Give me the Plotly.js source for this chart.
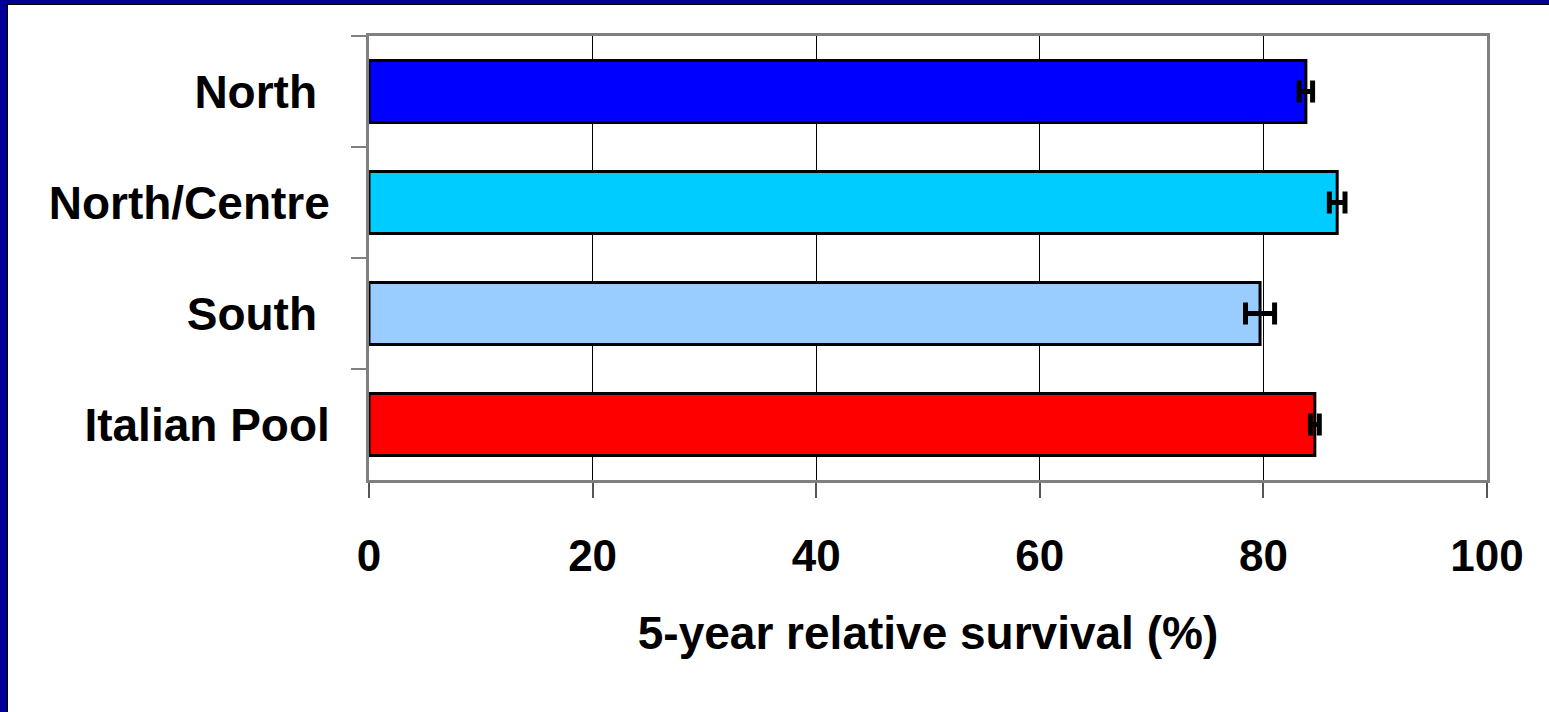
<!DOCTYPE html>
<html>
<head>
<meta charset="utf-8">
<script src="https://cdn.plot.ly/plotly-3.0.1.min.js"></script>
<style>
html,body{margin:0;padding:0;width:1549px;height:712px;overflow:hidden;background:#000099;}
#frame{position:absolute;left:7px;top:4px;width:1542px;height:708px;border-left:1px solid #000;border-top:1px solid #000;background:#fff;}
#chart{position:absolute;left:0;top:0;width:1541px;height:707px;}
</style>
</head>
<body>
<div id="frame"><div id="chart"></div></div>
<script>
const categories = ["North\u00a0", "North/Centre", "South\u00a0", "Italian Pool"];
const survival = [83.8, 86.6, 79.7, 84.6];
const errorHalf = [0.6, 0.7, 1.3, 0.4];
const barColors = ["#0000FF", "#00CCFF", "#99CCFF", "#FF0000"];
const xTicks = [0, 20, 40, 60, 80, 100];
const xTitle = "5-year relative survival (%)";

const fam = "Arial, 'Liberation Sans', sans-serif";

const trace = {
  type: "bar",
  orientation: "h",
  y: categories,
  x: survival,
  marker: {color: barColors, line: {color: "#000", width: 3}},
  error_x: {type: "data", array: errorHalf, visible: true, color: "#000", thickness: 5, width: 11},
  hoverinfo: "none"
};

const layout = {
  width: 1541, height: 707,
  margin: {l: 361, r: 62, t: 31, b: 232},
  paper_bgcolor: "#fff", plot_bgcolor: "#fff",
  showlegend: false,
  bargap: 0.44,
  font: {family: fam, size: 40, color: "#000"},
  xaxis: {
    range: [0, 100],
    tickvals: xTicks,
    ticktext: xTicks.map(String),
    tickfont: {family: fam, size: 44, color: "#000", weight: "bold"},
    ticks: "outside", ticklen: 15, tickwidth: 2, tickcolor: "#555",
    ticklabelstandoff: 20,
    showgrid: true, gridcolor: "#000", gridwidth: 1,
    showline: true, linecolor: "#808080", linewidth: 3, mirror: true,
    zeroline: false,
    title: {text: "<b>" + xTitle + "</b>", font: {family: fam, size: 46, color: "#000"}, standoff: 39}
  },
  yaxis: {
    type: "category",
    autorange: "reversed",
    tickson: "boundaries",
    ticks: "outside", ticklen: 15, tickwidth: 2, tickcolor: "#808080",
    tickfont: {family: fam, size: 46, color: "#000", weight: "bold"},
    ticklabelstandoff: 27,
    showgrid: false,
    showline: true, linecolor: "#808080", linewidth: 3, mirror: true,
    zeroline: false
  }
};

Plotly.newPlot("chart", [trace], layout, {staticPlot: true, displayModeBar: false});
</script>
</body>
</html>
